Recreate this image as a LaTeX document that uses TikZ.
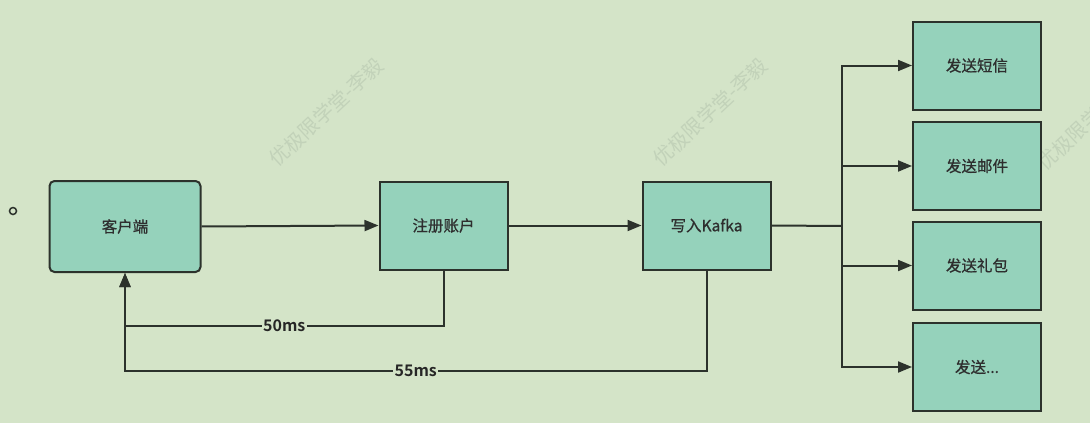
\documentclass[tikz,border=0pt]{standalone}
\usepackage{fontspec}
\newfontfamily\cjk[FakeBold=0.8]{Noto Sans CJK SC}
\newfontfamily\cjkwm{Noto Sans CJK SC}
\newfontfamily\cjkbold{Noto Sans CJK SC Bold}
\usetikzlibrary{arrows.meta,calc}

\definecolor{pagebg}{HTML}{D4E4C8}
\definecolor{boxfill}{HTML}{95D2BB}
\definecolor{boxline}{HTML}{2C322C}
\definecolor{wmark}{HTML}{C2D2B9}

\begin{document}
\begin{tikzpicture}[x=1pt,y=-1pt,
    box/.style={draw=boxline,fill=boxfill,line width=2pt,inner sep=0pt,
      minimum width=128pt,minimum height=88pt,font=\cjk\fontsize{15.5}{17}\selectfont,
      text=black!82},
    link/.style={draw=boxline,line width=2pt,-{Triangle[length=14pt,width=11pt]}},
    lbl/.style={fill=pagebg,inner sep=1.5pt,font=\cjkbold\fontsize{16}{18}\selectfont,text=black!85},
    wm/.style={rotate=43,text=wmark,font=\cjkwm\fontsize{20}{22}\selectfont}]

    \useasboundingbox[fill=pagebg] (0,0) rectangle (1090,423);

    % watermarks
    \node[wm] (wm1) at (326,112) {优极限学堂-李毅};
    \node[wm] (wm2) at (710,112) {优极限学堂-李毅};
    \node[wm] (wm3) at (1094,116) {优极限学堂-李毅};

    \node[circle,draw=boxline,line width=1.5pt,inner sep=0pt,minimum size=7pt] (dot) at (13,211) {};

    \node[box,rounded corners=5pt,minimum width=151pt,minimum height=91pt] (client) at (125,226.5) {客户端};
    \node[box] (reg) at (443.5,225.5) {注册账户};
    \node[box] (kafka) at (706.5,225.5) {写入Kafka};

    \node[box] (sms) at (977,65.5) {发送短信};
    \node[box] (mail) at (977,166) {发送邮件};
    \node[box] (gift) at (977,265.5) {发送礼包};
    \node[box] (more) at (977,367) {发送...};

    \coordinate (split) at (842,226);

    \draw[link] (client.east) -- (reg.west);
    \draw[link] (reg.east) -- (kafka.west);
    \draw[draw=boxline,line width=2pt] (kafka.east) -- (split);

    \foreach \t in {sms,mail,gift,more}
      \draw[link] (split) |- (\t.west);

    % replies
    \draw[link] (reg.south) -- ++(0,55) -| node[pos=0.25,lbl] (l50) {50ms} (client.south);
    \draw[link] (kafka.south) -- ++(0,100) -| node[pos=0.25,lbl] (l55) {55ms} (client.south);

\end{tikzpicture}
\end{document}
